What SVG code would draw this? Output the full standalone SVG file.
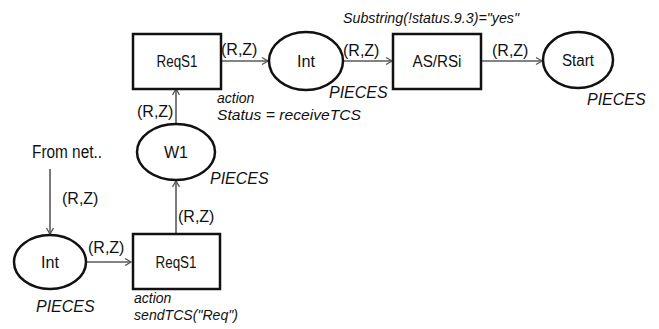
<svg xmlns="http://www.w3.org/2000/svg" width="659" height="329" viewBox="0 0 659 329">
  <style>
    .node { fill: #ffffff; stroke: #111111; stroke-width: 2.5; }
    .edge { fill: none; stroke: #5a5a5a; stroke-width: 1.6; }
    text { font-family: "Liberation Sans", Arial, sans-serif; fill: #111111; }
    .lbl { font-size: 16px; text-anchor: middle; }
    .rz { font-size: 16px; }
    .it { font-size: 14px; font-style: italic; }
    .pc { font-size: 16px; font-style: italic; }
  </style>
  <defs>
    <marker id="arrow" markerWidth="10" markerHeight="10" refX="8" refY="5" orient="auto" markerUnits="userSpaceOnUse">
      <polyline points="2,1.5 8,5 2,8.5" fill="none" stroke="#5a5a5a" stroke-width="1.4"/>
    </marker>
  </defs>

  <!-- connectors -->
  <g id="connectors">
    <line class="edge" x1="221" y1="61" x2="268" y2="61" marker-end="url(#arrow)"/>
    <line class="edge" x1="343" y1="61" x2="392" y2="61" marker-end="url(#arrow)"/>
    <line class="edge" x1="481" y1="61" x2="542" y2="61" marker-end="url(#arrow)"/>
    <line class="edge" x1="176" y1="123" x2="176" y2="89" marker-end="url(#arrow)"/>
    <line class="edge" x1="176" y1="234" x2="176" y2="181" marker-end="url(#arrow)"/>
    <line class="edge" x1="50" y1="169" x2="50" y2="234" marker-end="url(#arrow)"/>
    <line class="edge" x1="86" y1="262" x2="131" y2="262" marker-end="url(#arrow)"/>

    <text class="rz" x="221" y="55">(R,Z)</text>
    <text class="rz" x="343" y="56">(R,Z)</text>
    <text class="rz" x="492" y="56">(R,Z)</text>
    <text class="rz" x="137" y="117">(R,Z)</text>
    <text class="rz" x="178" y="222">(R,Z)</text>
    <text class="rz" x="62" y="204">(R,Z)</text>
    <text class="rz" x="88" y="253">(R,Z)</text>
  </g>

  <text x="32" y="158" font-size="18" textLength="70" lengthAdjust="spacingAndGlyphs">From net..</text>
  <text class="it" x="343" y="23" textLength="176" lengthAdjust="spacingAndGlyphs">Substring(!status.9.3)="yes"</text>

  <g id="reqs1-top">
    <rect class="node" x="133" y="34" width="88" height="55"/>
    <text class="lbl" x="177" y="67" textLength="41" lengthAdjust="spacingAndGlyphs">ReqS1</text>
    <text class="it" x="217" y="103">action</text>
    <text class="it" x="217" y="120" textLength="144" lengthAdjust="spacingAndGlyphs">Status = receiveTCS</text>
  </g>

  <g id="int-top">
    <ellipse class="node" cx="306" cy="61" rx="37" ry="29"/>
    <text class="lbl" x="306" y="67" textLength="18" lengthAdjust="spacingAndGlyphs">Int</text>
    <text class="pc" x="329" y="98">PIECES</text>
  </g>

  <g id="as-rsi">
    <rect class="node" x="393" y="34" width="88" height="55"/>
    <text class="lbl" x="437" y="67" textLength="49" lengthAdjust="spacingAndGlyphs">AS/RSi</text>
  </g>

  <g id="start">
    <ellipse class="node" cx="578" cy="60" rx="35" ry="28"/>
    <text class="lbl" x="578" y="66" textLength="32" lengthAdjust="spacingAndGlyphs">Start</text>
    <text class="pc" x="587" y="105">PIECES</text>
  </g>

  <g id="w1">
    <ellipse class="node" cx="176" cy="152" rx="39" ry="28"/>
    <text class="lbl" x="176" y="158" textLength="24" lengthAdjust="spacingAndGlyphs">W1</text>
    <text class="pc" x="210" y="184">PIECES</text>
  </g>

  <g id="int-bottom">
    <ellipse class="node" cx="50" cy="262" rx="36" ry="27"/>
    <text class="lbl" x="50" y="268" textLength="18" lengthAdjust="spacingAndGlyphs">Int</text>
    <text class="pc" x="36" y="312">PIECES</text>
  </g>

  <g id="reqs1-bottom">
    <rect class="node" x="133" y="234" width="87" height="55"/>
    <text class="lbl" x="176" y="268" textLength="41" lengthAdjust="spacingAndGlyphs">ReqS1</text>
    <text class="it" x="134" y="303">action</text>
    <text class="it" x="134" y="320" textLength="104" lengthAdjust="spacingAndGlyphs">sendTCS("Req")</text>
  </g>
</svg>
